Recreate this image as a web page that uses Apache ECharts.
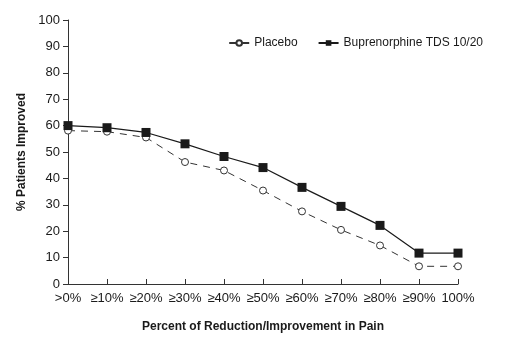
<!DOCTYPE html>
<html>
<head>
<meta charset="utf-8">
<style>
  html, body { margin: 0; padding: 0; background: #fff; }
  #chart { width: 513px; height: 354px; }
</style>
<script src="https://cdn.jsdelivr.net/npm/echarts@6/dist/echarts.min.js"></script>
</head>
<body>
<div id="chart"></div>
<script>
// categories on the x axis
var categories = ['>0%', '≥10%', '≥20%', '≥30%', '≥40%', '≥50%', '≥60%', '≥70%', '≥80%', '≥90%', '100%']
// % patients improved
var placebo = [58.1, 57.7, 55.5, 46.2, 43.0, 35.4, 27.5, 20.5, 14.6, 6.7, 6.7]
var bupren = [60.0, 59.2, 57.4, 53.1, 48.3, 44.1, 36.6, 29.4, 22.2, 11.7, 11.7]

var font = '"Liberation Sans Narrow", "Liberation Sans", Arial, sans-serif'
var ink = '#1a1a1a'

var chart = echarts.init(document.getElementById('chart'))
chart.setOption({
  animation: false,
  textStyle: { fontFamily: font, color: ink },
  grid: { left: 68, right: 55, top: 20, bottom: 70 },
  legend: {
    top: 32,
    right: 25,
    itemWidth: 20,
    itemHeight: 7,
    itemGap: 20,
    textStyle: { fontFamily: font, fontSize: 12, color: ink },
    data: ['Placebo', 'Buprenorphine TDS 10/20']
  },
  xAxis: {
    type: 'category',
    data: categories,
    boundaryGap: false,
    name: 'Percent of Reduction/Improvement in Pain',
    nameLocation: 'middle',
    nameGap: 37,
    nameTextStyle: { fontFamily: font, fontSize: 12, fontWeight: 'bold', color: ink },
    axisLine: { lineStyle: { color: '#333', width: 1 } },
    axisTick: { inside: true, length: 5, alignWithLabel: true, lineStyle: { color: '#333' } },
    axisLabel: { fontSize: 13, color: ink, margin: 8, interval: 0 },
    splitLine: { show: false }
  },
  yAxis: {
    type: 'value',
    min: 0,
    max: 100,
    interval: 10,
    name: '% Patients Improved',
    nameLocation: 'middle',
    nameGap: 38,
    nameTextStyle: { fontFamily: font, fontSize: 12, fontWeight: 'bold', color: ink },
    axisLine: { show: true, lineStyle: { color: '#333', width: 1 } },
    axisTick: { show: true, length: 5, lineStyle: { color: '#333' } },
    axisLabel: { fontSize: 13, color: ink, margin: 8 },
    splitLine: { show: false }
  },
  series: [
    {
      name: 'Placebo',
      type: 'line',
      data: placebo,
      symbol: 'circle',
      symbolSize: 7,
      itemStyle: { color: '#fff', borderColor: '#333', borderWidth: 1 },
      lineStyle: { color: '#333', width: 1, type: [7, 6] }
    },
    {
      name: 'Buprenorphine TDS 10/20',
      type: 'line',
      data: bupren,
      symbol: 'rect',
      symbolSize: 9,
      itemStyle: { color: '#1a1a1a' },
      lineStyle: { color: '#1a1a1a', width: 1.2 }
    }
  ]
})
</script>
</body>
</html>
